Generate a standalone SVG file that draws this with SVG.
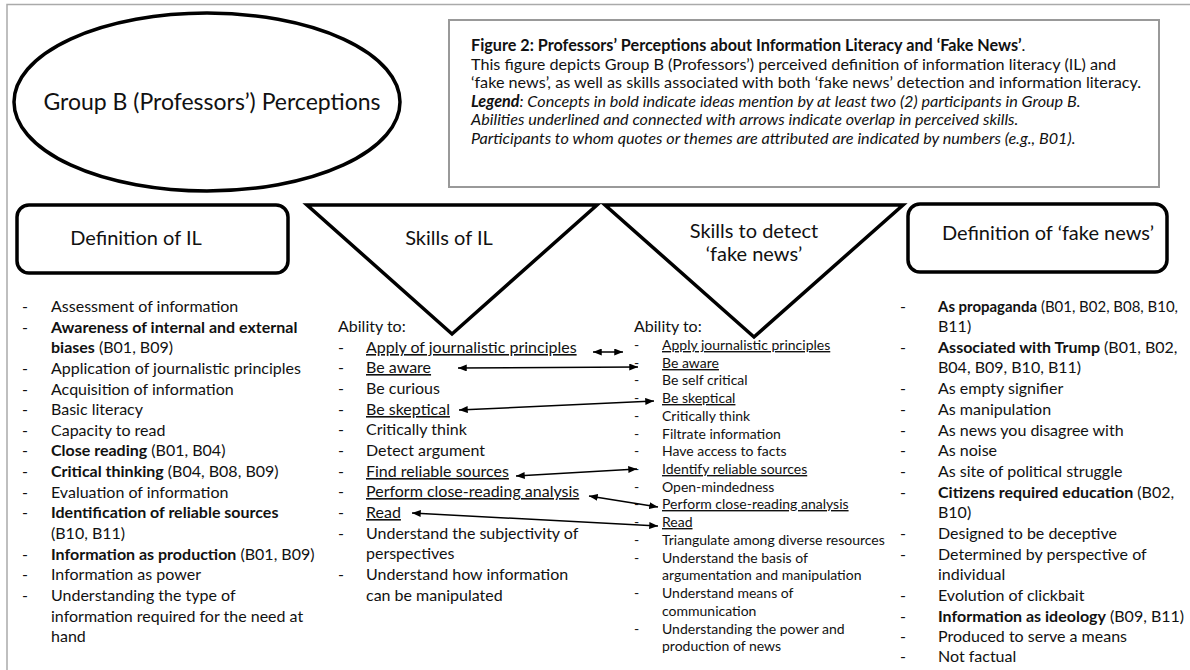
<svg xmlns="http://www.w3.org/2000/svg" width="1190" height="670" viewBox="0 0 1190 670">
  <style>
    text { font-family: Lato, "Liberation Sans", sans-serif; fill: #111; }
    .head { font-size: 20px; }
    .title { font-size: 23px; }
    .cap { font-size: 16.2px; }
    .li { font-size: 16px; }
    .sm { font-size: 14px; }
    .b { font-weight: bold; }
    .i { font-style: italic; }
    .u { text-decoration: underline; }
    .shape { fill: #fff; stroke: #000; stroke-width: 3.5; stroke-linejoin: miter; }
    .link { fill: none; stroke: #000; stroke-width: 1.5; marker-start: url(#tip); marker-end: url(#tip); }
  </style>
  <defs>
    <marker id="tip" viewBox="0 0 10 8" refX="10" refY="4" markerWidth="9" markerHeight="7" markerUnits="userSpaceOnUse" orient="auto-start-reverse">
      <path d="M0,0 L10,4 L0,8 Z" fill="#000"/>
    </marker>
  </defs>

  <rect width="1190" height="670" fill="#fff"/>
  <!-- page frame -->
  <path d="M7,670 V4.5 H1190" fill="none" stroke="#aaa" stroke-width="1.5"/>

  <g id="group-b">
    <ellipse cx="207" cy="102" rx="193" ry="89" class="shape" stroke-width="3"/>
    <text x="212" y="110" class="title" text-anchor="middle">Group B (Professors’) Perceptions</text>
  </g>

  <g id="caption">
    <rect x="449" y="20" width="710" height="167" fill="#fff" stroke="#999" stroke-width="2"/>
    <text x="471" y="51" class="cap"><tspan class="b">Figure 2: Professors’ Perceptions about Information Literacy and ‘Fake News’</tspan>.</text>
    <text x="471" y="69.5" class="cap">This figure depicts Group B (Professors’) perceived definition of information literacy (IL) and</text>
    <text x="471" y="88" class="cap">‘fake news’, as well as skills associated with both ‘fake news’ detection and information literacy.</text>
    <text x="471" y="106.5" class="cap i"><tspan class="b">Legend</tspan>: Concepts in bold indicate ideas mention by at least two (2) participants in Group B.</text>
    <text x="471" y="125" class="cap i">Abilities underlined and connected with arrows indicate overlap in perceived skills.</text>
    <text x="471" y="143.5" class="cap i">Participants to whom quotes or themes are attributed are indicated by numbers (e.g., B01).</text>
  </g>

  <g id="def-il">
    <rect x="17" y="205" width="271" height="68" rx="12" class="shape"/>
    <text x="136" y="245" class="head" text-anchor="middle">Definition of IL</text>
    <g class="li">
      <text x="22" y="312">-</text><text x="51" y="312">Assessment of information</text>
      <text x="22" y="333">-</text><text x="51" y="333" class="b">Awareness of internal and external</text>
      <text x="51" y="353"><tspan class="b">biases</tspan> (B01, B09)</text>
      <text x="22" y="374">-</text><text x="51" y="374">Application of journalistic principles</text>
      <text x="22" y="395">-</text><text x="51" y="395">Acquisition of information</text>
      <text x="22" y="415">-</text><text x="51" y="415">Basic literacy</text>
      <text x="22" y="436">-</text><text x="51" y="436">Capacity to read</text>
      <text x="22" y="456">-</text><text x="51" y="456"><tspan class="b">Close reading</tspan> (B01, B04)</text>
      <text x="22" y="477">-</text><text x="51" y="477"><tspan class="b">Critical thinking</tspan> (B04, B08, B09)</text>
      <text x="22" y="498">-</text><text x="51" y="498">Evaluation of information</text>
      <text x="22" y="518">-</text><text x="51" y="518" class="b">Identification of reliable sources</text>
      <text x="51" y="539">(B10, B11)</text>
      <text x="22" y="560">-</text><text x="51" y="560"><tspan class="b">Information as production</tspan> (B01, B09)</text>
      <text x="22" y="580">-</text><text x="51" y="580">Information as power</text>
      <text x="22" y="601">-</text><text x="51" y="601">Understanding the type of</text>
      <text x="51" y="622">information required for the need at</text>
      <text x="51" y="642">hand</text>
    </g>
  </g>

  <g id="skills-il">
    <polygon points="307,205 597,205 452,334" class="shape"/>
    <text x="449" y="245" class="head" text-anchor="middle">Skills of IL</text>
    <g class="li">
      <text x="338" y="332">Ability to:</text>
      <text x="338" y="353">-</text><text x="366" y="353" class="u">Apply of journalistic principles</text>
      <text x="338" y="373">-</text><text x="366" y="373" class="u">Be aware</text>
      <text x="338" y="394">-</text><text x="366" y="394">Be curious</text>
      <text x="338" y="415">-</text><text x="366" y="415" class="u">Be skeptical</text>
      <text x="338" y="435">-</text><text x="366" y="435">Critically think</text>
      <text x="338" y="456">-</text><text x="366" y="456">Detect argument</text>
      <text x="338" y="477">-</text><text x="366" y="477" class="u">Find reliable sources</text>
      <text x="338" y="497">-</text><text x="366" y="497" class="u">Perform close-reading analysis</text>
      <text x="338" y="518">-</text><text x="366" y="518" class="u">Read</text>
      <text x="338" y="539">-</text><text x="366" y="539">Understand the subjectivity of</text>
      <text x="366" y="559">perspectives</text>
      <text x="338" y="580">-</text><text x="366" y="580">Understand how information</text>
      <text x="366" y="601">can be manipulated</text>
    </g>
  </g>

  <g id="skills-fake-news">
    <polygon points="605,205 903,205 754,337" class="shape"/>
    <text x="754" y="238" class="head" text-anchor="middle">Skills to detect</text>
    <text x="754" y="261" class="head" text-anchor="middle">‘fake news’</text>
    <text x="634" y="332" class="li">Ability to:</text>
    <g class="sm">
      <text x="634" y="350">-</text><text x="662" y="350" class="u">Apply journalistic principles</text>
      <text x="634" y="368">-</text><text x="662" y="368" class="u">Be aware</text>
      <text x="634" y="385">-</text><text x="662" y="385">Be self critical</text>
      <text x="634" y="403">-</text><text x="662" y="403" class="u">Be skeptical</text>
      <text x="634" y="421">-</text><text x="662" y="421">Critically think</text>
      <text x="634" y="439">-</text><text x="662" y="439">Filtrate information</text>
      <text x="634" y="456">-</text><text x="662" y="456">Have access to facts</text>
      <text x="634" y="474">-</text><text x="662" y="474" class="u">Identify reliable sources</text>
      <text x="634" y="492">-</text><text x="662" y="492">Open-mindedness</text>
      <text x="634" y="509">-</text><text x="662" y="509" class="u">Perform  close-reading analysis</text>
      <text x="634" y="527">-</text><text x="662" y="527" class="u">Read</text>
      <text x="634" y="545">-</text><text x="662" y="545">Triangulate among diverse resources</text>
      <text x="634" y="563">-</text><text x="662" y="563">Understand the basis of</text>
      <text x="662" y="580">argumentation and manipulation</text>
      <text x="634" y="598">-</text><text x="662" y="598">Understand means of</text>
      <text x="662" y="616">communication</text>
      <text x="634" y="634">-</text><text x="662" y="634">Understanding the power and</text>
      <text x="662" y="651">production of news</text>
    </g>
  </g>

  <g id="def-fake-news">
    <rect x="908" y="204" width="259" height="68" rx="12" class="shape"/>
    <text x="1048" y="240" class="head" text-anchor="middle">Definition of ‘fake news’</text>
    <g class="li">
      <text x="900" y="312">-</text><text x="938" y="312" textLength="240" lengthAdjust="spacingAndGlyphs"><tspan class="b">As propaganda</tspan> (B01, B02, B08, B10,</text>
      <text x="938" y="332">B11)</text>
      <text x="900" y="353">-</text><text x="938" y="353"><tspan class="b">Associated with Trump</tspan>  (B01, B02,</text>
      <text x="938" y="373">B04, B09, B10, B11)</text>
      <text x="900" y="394">-</text><text x="938" y="394">As empty signifier</text>
      <text x="900" y="415">-</text><text x="938" y="415">As manipulation</text>
      <text x="900" y="436">-</text><text x="938" y="436">As news you disagree with</text>
      <text x="900" y="456">-</text><text x="938" y="456">As noise</text>
      <text x="900" y="477">-</text><text x="938" y="477">As site of political struggle</text>
      <text x="900" y="498">-</text><text x="938" y="498"><tspan class="b">Citizens required education</tspan> (B02,</text>
      <text x="938" y="518">B10)</text>
      <text x="900" y="539">-</text><text x="938" y="539">Designed to be deceptive</text>
      <text x="900" y="560">-</text><text x="938" y="560">Determined by perspective of</text>
      <text x="938" y="580">individual</text>
      <text x="900" y="601">-</text><text x="938" y="601">Evolution of clickbait</text>
      <text x="900" y="622">-</text><text x="938" y="622"><tspan class="b">Information as ideology</tspan> (B09, B11)</text>
      <text x="900" y="642">-</text><text x="938" y="642">Produced to serve a means</text>
      <text x="900" y="662">-</text><text x="938" y="662">Not factual</text>
    </g>
  </g>

  <!-- overlap connectors between the two skill lists -->
  <g id="connectors">
    <line x1="593" y1="352" x2="623" y2="352" class="link"/>
    <line x1="458" y1="368" x2="638" y2="367" class="link"/>
    <line x1="459" y1="410" x2="654" y2="401" class="link"/>
    <line x1="516" y1="476" x2="637" y2="469" class="link"/>
    <line x1="589" y1="496" x2="658" y2="507" class="link"/>
    <line x1="412" y1="513" x2="658" y2="526" class="link" stroke-width="2.2"/>
  </g>
</svg>
